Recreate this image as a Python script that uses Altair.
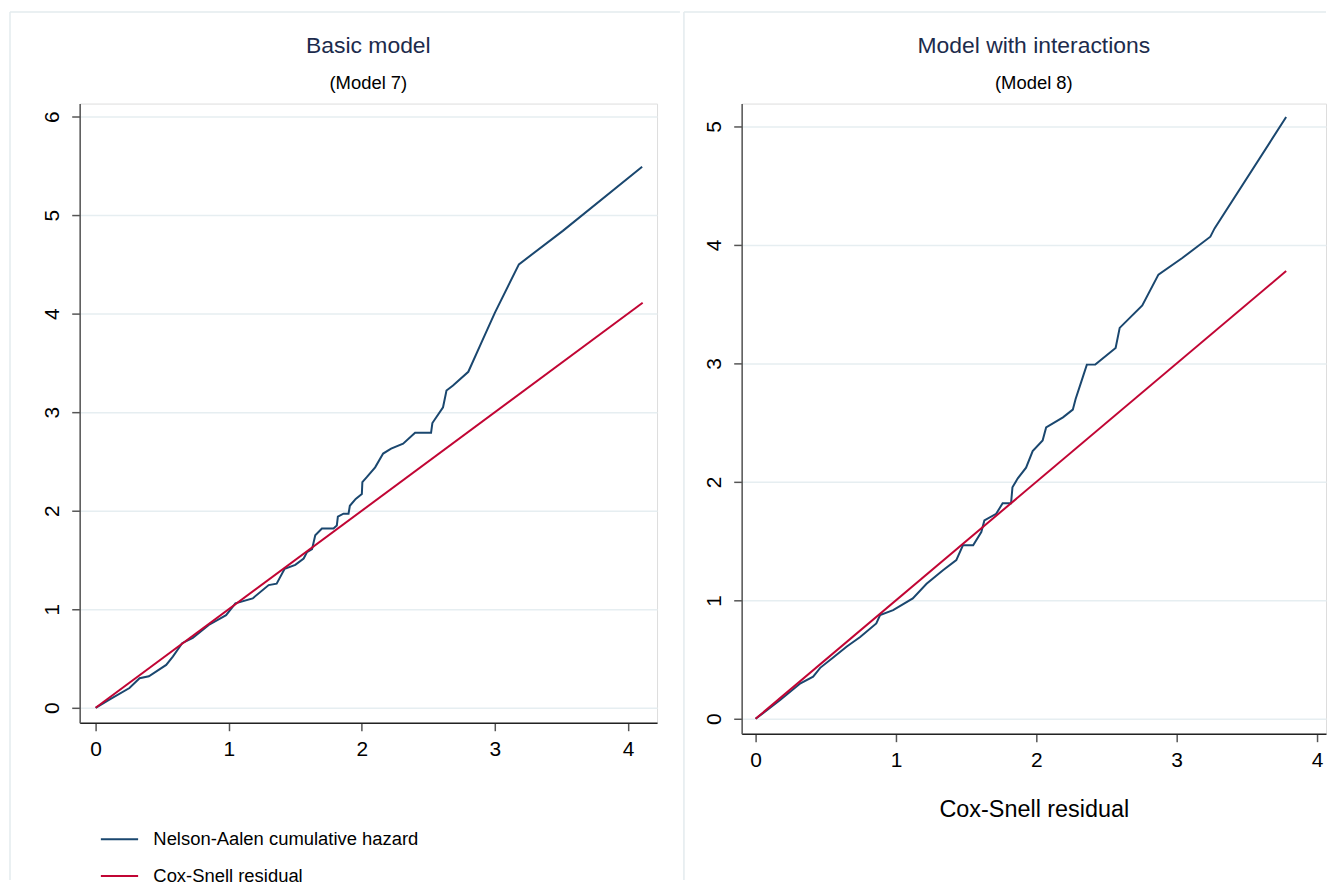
import altair as alt
import pandas as pd

# ---- data ----
series_names = ["Nelson-Aalen cumulative hazard", "Cox-Snell residual"]

left_na_x = [0, 0.10, 0.254, 0.33, 0.40, 0.53, 0.58, 0.65, 0.73, 0.85, 0.98, 1.05, 1.18, 1.30, 1.36,
             1.42, 1.50, 1.563, 1.588, 1.626, 1.65, 1.70, 1.787, 1.812, 1.82, 1.862, 1.90, 1.91, 1.954,
             2.00, 2.004, 2.037, 2.10, 2.16, 2.22, 2.31, 2.40, 2.52, 2.53, 2.61, 2.636, 2.685, 2.80,
             2.90, 3.00, 3.18, 3.51, 4.106]
left_na_y = [0, 0.08, 0.20, 0.30, 0.32, 0.435, 0.52, 0.655, 0.71, 0.84, 0.94, 1.06, 1.11, 1.245, 1.26,
             1.41, 1.45, 1.515, 1.58, 1.61, 1.75, 1.82, 1.82, 1.85, 1.94, 1.97, 1.97, 2.05, 2.12,
             2.17, 2.29, 2.34, 2.44, 2.58, 2.63, 2.68, 2.79, 2.79, 2.89, 3.05, 3.22, 3.27, 3.41,
             3.71, 4.01, 4.50, 4.84, 5.49]
left_cs = [0, 4.11]

right_na_x = [0, 0.177, 0.32, 0.41, 0.46, 0.555, 0.65, 0.745, 0.86, 0.887, 0.98, 1.12, 1.218, 1.335,
              1.43, 1.477, 1.55, 1.608, 1.63, 1.714, 1.76, 1.82, 1.83, 1.868, 1.927, 1.974, 2.045,
              2.07, 2.19, 2.26, 2.28, 2.33, 2.36, 2.42, 2.565, 2.594, 2.755, 2.87, 3.04, 3.24, 3.27, 3.78]
right_na_y = [0, 0.16, 0.30, 0.356, 0.43, 0.52, 0.61, 0.69, 0.805, 0.875, 0.917, 1.016, 1.14, 1.254,
              1.34, 1.465, 1.465, 1.577, 1.675, 1.73, 1.82, 1.82, 1.955, 2.03, 2.12, 2.26, 2.35,
              2.46, 2.545, 2.61, 2.70, 2.88, 2.99, 2.99, 3.13, 3.30, 3.49, 3.75, 3.89, 4.07, 4.14, 5.08]
right_cs = [0, 3.78]

x_ticks = [0, 1, 2, 3, 4]
left_y_ticks = [0, 1, 2, 3, 4, 5, 6]
right_y_ticks = [0, 1, 2, 3, 4, 5]

NAVY = "#1a476f"
RED = "#c10534"
FONT = "Liberation Sans"
GRID = "#e6eef1"
BORDER = "#e3ebee"

color_scale = alt.Scale(domain=series_names, range=[NAVY, RED])


def panel(na_x, na_y, cs, y_ticks, xdom, ydom, w, h, title, subtitle, legend, xtitle,
          bl, bt, br, bb):
    na = pd.DataFrame({"x": na_x, "y": na_y, "s": series_names[0]})
    csd = pd.DataFrame({"x": cs, "y": cs, "s": series_names[1]})
    xa = alt.Axis(values=x_ticks, grid=False, tickSize=8, tickColor="#555", tickWidth=1.5,
                  domainColor="#222", domainWidth=1.5, labelFontSize=21, labelFont=FONT,
                  labelColor="black", labelPadding=8, title=xtitle, titleFont=FONT,
                  titleFontSize=23.5, titleFontWeight="normal", titleColor="black", titlePadding=27,
                  format="d")
    ya = alt.Axis(values=y_ticks, grid=True, gridColor=GRID, gridWidth=1.5, tickSize=8,
                  tickColor="#555", tickWidth=1.5, domainColor="#555", domainWidth=1.5,
                  labelFontSize=21, labelFont=FONT, labelColor="black", labelAngle=270,
                  labelAlign="center", labelBaseline="alphabetic", labelPadding=13, title=None,
                  format="d")
    xs = alt.Scale(domain=xdom, nice=False, zero=False)
    ys = alt.Scale(domain=ydom, nice=False, zero=False)
    if legend:
        leg = alt.Legend(orient="none", legendX=20, legendY=719, title=None, symbolType="stroke",
                         symbolSize=1400, symbolStrokeWidth=2, labelFontSize=18.5, labelFont=FONT,
                         labelColor="black", labelOffset=14, rowPadding=7, padding=0,
                         labelLimit=600)
    else:
        leg = None
    enc = dict(x=alt.X("x:Q", scale=xs, axis=xa), y=alt.Y("y:Q", scale=ys, axis=ya),
               color=alt.Color("s:N", scale=color_scale, legend=leg))
    l1 = alt.Chart(na).mark_line(strokeWidth=2).encode(**enc)
    l2 = alt.Chart(csd).mark_line(strokeWidth=2).encode(**enc)
    one = pd.DataFrame({"a": [0]})
    vb = alt.Chart(one).mark_rule(color=BORDER, strokeWidth=1.5).encode(
        x=alt.value(bl), y=alt.value(bt), y2=alt.value(bb))
    hb = alt.Chart(one).mark_rule(color=BORDER, strokeWidth=1.5).encode(
        x=alt.value(bl), x2=alt.value(br), y=alt.value(bt))
    return alt.layer(vb, hb, l1, l2).properties(
        width=w, height=h,
        title=alt.TitleParams(text=title, subtitle=subtitle, font=FONT, fontSize=23,
                              fontWeight="normal", color="#1c2b4c", subtitleFont=FONT,
                              subtitleFontSize=18.5, subtitleColor="black", subtitlePadding=17,
                              anchor="middle", frame="group", offset=-82),
    )


left = panel(left_na_x, left_na_y, left_cs, left_y_ticks, [-0.12, 4.218], [-0.152, 6.132],
             580, 622, "Basic model", "(Model 7)", True, None, -70, -92, 603, 780)
right = panel(right_na_x, right_na_y, right_cs, right_y_ticks, [-0.0993, 4.064], [-0.126, 5.194],
              587, 633, "Model with interactions", "(Model 8)", False, "Cox-Snell residual",
              -58, -92, 587, 780)

chart = alt.hconcat(left, right, spacing=0).resolve_scale(color="independent").properties(
    padding={"left": 0, "top": 0, "right": 0, "bottom": 0}
).configure_view(stroke=None).configure(background="white")

chart.save("out.html", embed_options={"renderer": "svg", "actions": False})
